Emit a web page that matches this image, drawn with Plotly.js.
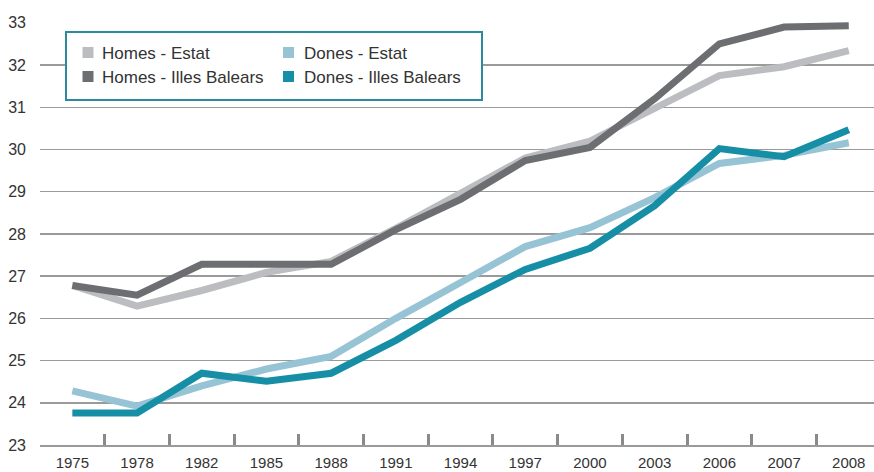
<!DOCTYPE html>
<html>
<head>
<meta charset="utf-8">
<script src="https://cdn.plot.ly/plotly-3.0.1.min.js"></script>
<style>
  html, body { margin: 0; padding: 0; background: #ffffff; overflow: hidden; }
  #chart { width: 874px; height: 472px; }
</style>
</head>
<body>
<div id="chart"></div>
<script>
// ---- Data ----
var years = ["1975", "1978", "1982", "1985", "1988", "1991", "1994", "1997", "2000", "2003", "2006", "2007", "2008"];
var homesEstat   = [26.78, 26.29, 26.66, 27.09, 27.35, 28.13, 28.96, 29.80, 30.20, 30.97, 31.75, 31.96, 32.34];
var donesEstat   = [24.28, 23.92, 24.40, 24.80, 25.10, 26.00, 26.85, 27.70, 28.15, 28.86, 29.67, 29.86, 30.16];
var homesBalears = [26.78, 26.55, 27.28, 27.30, 27.28, 28.10, 28.82, 29.74, 30.05, 31.20, 32.50, 32.90, 32.93];
var donesBalears = [23.76, 23.76, 24.70, 24.51, 24.70, 25.48, 26.38, 27.16, 27.66, 28.67, 30.02, 29.83, 30.47];
var seriesNames = ["Homes - Estat", "Dones - Estat", "Homes - Illes Balears", "Dones - Illes Balears"];
var yTicks = [23, 24, 25, 26, 27, 28, 29, 30, 31, 32, 33];

// ---- Styling ----
var colors = ["#bcbdc0", "#96c4d5", "#6d6e71", "#168fa6"];
var seriesValues = [homesEstat, donesEstat, homesBalears, donesBalears];

var traces = seriesValues.map(function (vals, i) {
  return {
    type: "scatter",
    mode: "lines",
    x: years,
    y: vals,
    name: seriesNames[i],
    line: { color: colors[i], width: 7 },
    showlegend: false,
    hoverinfo: "skip"
  };
});

// plot area in pixels: left 40, right 874, top 22, bottom 445
var L = 40, R = 874, T = 22, B = 445;
function px(x) { return (x - L) / (R - L); }
function py(y) { return (B - y) / (B - T); }

var shapes = [
  { type: "rect", xref: "paper", yref: "paper",
    x0: px(66), x1: px(482), y0: py(100), y1: py(32),
    fillcolor: "#ffffff", line: { color: "#2b8a9c", width: 2 }, layer: "above" }
];
var annotations = [];
// legend layout: 2 columns x 2 rows
var legendCols = [[88, 100], [288.5, 302]];   // square centre x, text start x
var legendRows = [52.5, 76.5];
var legendPos = [[0, 0], [1, 0], [0, 1], [1, 1]]; // [col,row] per series
seriesNames.forEach(function (name, i) {
  var c = legendCols[legendPos[i][0]], r = legendRows[legendPos[i][1]];
  shapes.push({ type: "rect", xref: "paper", yref: "paper",
    x0: px(c[0] - 5.5), x1: px(c[0] + 5.5), y0: py(r + 5.5), y1: py(r - 5.5),
    fillcolor: colors[i], line: { width: 0 }, layer: "above" });
  annotations.push({ xref: "paper", yref: "paper", x: px(c[1]), y: py(r + 1),
    xanchor: "left", yanchor: "middle", showarrow: false, text: name,
    font: { family: "Liberation Sans, Arial, sans-serif", size: 17, color: "#333333" } });
});

var layout = {
  width: 874, height: 472,
  margin: { l: L, r: 874 - R, t: T, b: 472 - B, pad: 0 },
  paper_bgcolor: "#ffffff", plot_bgcolor: "#ffffff",
  showlegend: false,
  font: { family: "Liberation Sans, Arial, sans-serif", size: 16, color: "#333333" },
  xaxis: {
    type: "category",
    categoryorder: "array", categoryarray: years,
    range: [-0.5, 12.39],
    tickson: "boundaries",
    ticks: "inside", ticklen: 11, tickwidth: 3, tickcolor: "#8a8a8a",
    showgrid: false, zeroline: false,
    showline: true, linecolor: "#9a9a9a", linewidth: 1.5,
    ticklabelstandoff: 3,
    tickfont: { family: "Liberation Sans, Arial, sans-serif", size: 15, color: "#333333" },
    fixedrange: true
  },
  yaxis: {
    range: [23, 33.02],
    tickvals: yTicks, ticktext: yTicks.map(String),
    ticks: "", showline: false, zeroline: false,
    showgrid: true, gridcolor: "#9a9a9a", gridwidth: 1.5,
    ticklabelstandoff: 13,
    tickfont: { family: "Liberation Sans, Arial, sans-serif", size: 16, color: "#333333" },
    fixedrange: true
  },
  shapes: shapes,
  annotations: annotations
};

Plotly.newPlot("chart", traces, layout, { staticPlot: true, displayModeBar: false });
</script>
</body>
</html>
